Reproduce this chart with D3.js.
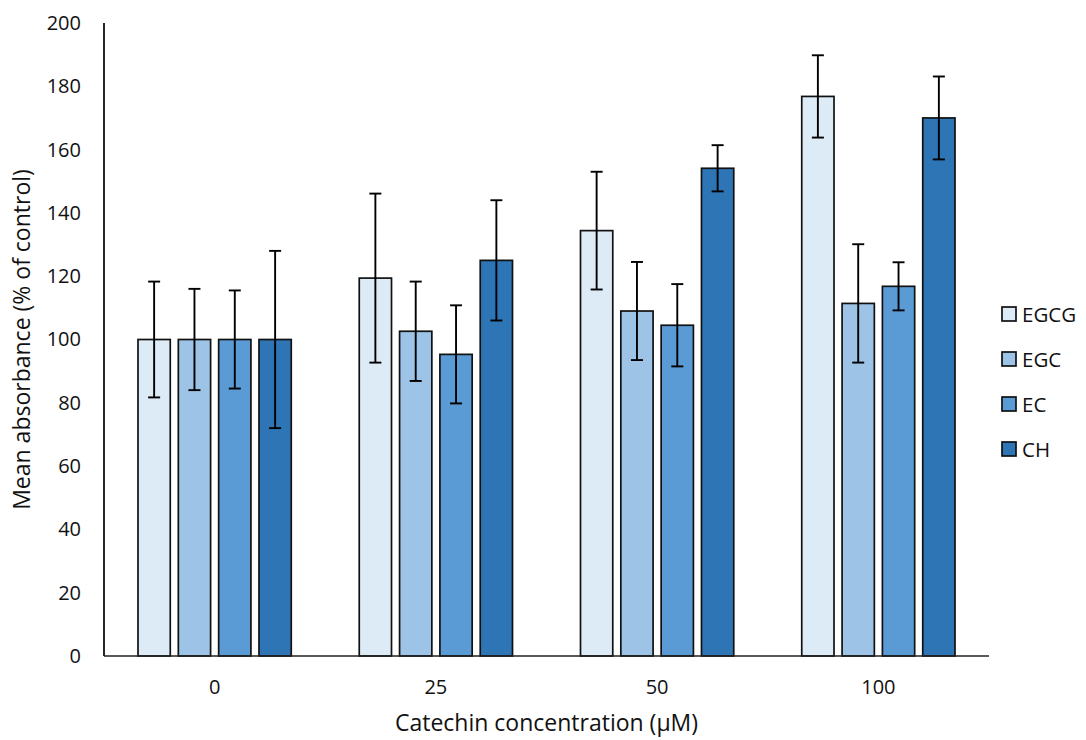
<!DOCTYPE html>
<html>
<head>
<meta charset="utf-8">
<script src="https://cdn.jsdelivr.net/npm/d3@7"></script>
<style>
  body { margin: 0; background: #fff; }
  text { font-family: "Open Sans", "Noto Sans", sans-serif; fill: #111; }
</style>
</head>
<body>
<div id="chart"></div>
<script>
// data
var categories = ["0", "25", "50", "100"];
var seriesNames = ["EGCG", "EGC", "EC", "CH"];
var seriesColors = ["#DDEBF7", "#9DC3E6", "#5B9BD5", "#2E75B6"];
var egcgValues = [100, 119.4, 134.4, 176.8];
var egcValues  = [100, 102.6, 109.0, 111.4];
var ecValues   = [100, 95.3, 104.5, 116.8];
var chValues   = [100, 125.0, 154.1, 170.0];
var egcgErrors = [18.3, 26.7, 18.6, 13.0];
var egcErrors  = [16.0, 15.7, 15.5, 18.7];
var ecErrors   = [15.5, 15.5, 13.0, 7.6];
var chErrors   = [28.0, 19.0, 7.3, 13.1];
var yTicks = [0, 20, 40, 60, 80, 100, 120, 140, 160, 180, 200];

var allValues = [egcgValues, egcValues, ecValues, chValues];
var allErrors = [egcgErrors, egcErrors, ecErrors, chErrors];

//svg size
var svgWidth = 1086;
var svgHeight = 740;

var margin = { top: 23, right: 97, bottom: 84, left: 104 };
var width = svgWidth - margin.left - margin.right;
var height = svgHeight - margin.top - margin.bottom;

var svg = d3.select("#chart")
    .append("svg")
    .attr("width", svgWidth)
    .attr("height", svgHeight);

var chartGroup = svg.append("g")
    .attr("transform", `translate(${margin.left}, ${margin.top})`);

//scales
var x0 = d3.scaleBand()
    .domain(categories)
    .range([0, width])
    .padding(0);

var x1 = d3.scaleBand()
    .domain(seriesNames)
    .range([34, x0.bandwidth() - 34])
    .paddingInner(0.2);

var yScale = d3.scaleLinear()
    .domain([0, 200])
    .range([height, 0]);

//y axis tick labels
var leftAxis = d3.axisLeft(yScale)
    .tickValues(yTicks)
    .tickSize(0)
    .tickPadding(23);

var yAxis = chartGroup.append("g").call(leftAxis);
yAxis.select(".domain").remove();
yAxis.selectAll("text")
    .style("font-size", "20px")
    .style("font-family", "'Open Sans', sans-serif")
    .attr("fill", "#111");

//x axis labels
var bottomAxis = d3.axisBottom(x0).tickSize(0).tickPadding(24);
var xAxis = chartGroup.append("g")
    .attr("transform", `translate(0, ${height})`)
    .call(bottomAxis);
xAxis.select(".domain").remove();
xAxis.selectAll("text")
    .style("font-size", "20px")
    .style("font-family", "'Open Sans', sans-serif")
    .attr("fill", "#111");

//flatten data into rows
var rows = [];
categories.forEach(function(c, i) {
    seriesNames.forEach(function(s, j) {
        rows.push({ cat: c, series: s, value: allValues[j][i], err: allErrors[j][i], color: seriesColors[j] });
    });
});

//bars
chartGroup.selectAll("rect.bar")
    .data(rows)
    .enter()
    .append("rect")
    .attr("class", "bar")
    .attr("x", d => x0(d.cat) + x1(d.series))
    .attr("y", d => yScale(d.value))
    .attr("width", x1.bandwidth())
    .attr("height", d => height - yScale(d.value))
    .attr("fill", d => d.color)
    .attr("stroke", "#111")
    .attr("stroke-width", 1.7);

//error bars
var errGroup = chartGroup.append("g")
    .attr("stroke", "#000")
    .attr("stroke-width", 1.9);

rows.forEach(function(d) {
    var cx = x0(d.cat) + x1(d.series) + x1.bandwidth() / 2;
    var yTop = yScale(d.value + d.err);
    var yBot = yScale(d.value - d.err);
    errGroup.append("line").attr("x1", cx).attr("x2", cx).attr("y1", yTop).attr("y2", yBot);
    errGroup.append("line").attr("x1", cx - 6).attr("x2", cx + 6).attr("y1", yTop).attr("y2", yTop);
    errGroup.append("line").attr("x1", cx - 6).attr("x2", cx + 6).attr("y1", yBot).attr("y2", yBot);
});

//axis lines
chartGroup.append("line")
    .attr("x1", 0).attr("x2", 0)
    .attr("y1", 0).attr("y2", height)
    .attr("stroke", "#000").attr("stroke-width", 1.7);

chartGroup.append("line")
    .attr("x1", 0).attr("x2", width)
    .attr("y1", height).attr("y2", height)
    .attr("stroke", "#222").attr("stroke-width", 1.7);

//axis titles
svg.append("text")
    .attr("transform", `translate(22, ${margin.top + height / 2}) rotate(-90)`)
    .attr("text-anchor", "middle")
    .attr("dy", "0.35em")
    .style("font-size", "23px")
    .text("Mean absorbance (% of control)");

svg.append("text")
    .attr("x", margin.left + width / 2)
    .attr("y", 731)
    .attr("text-anchor", "middle")
    .style("font-size", "23px")
    .text("Catechin concentration (\u03BCM)");

//legend
var legend = svg.append("g")
    .attr("transform", "translate(1002, 307)");

seriesNames.forEach(function(s, j) {
    var g = legend.append("g").attr("transform", `translate(0, ${j * 45})`);
    g.append("rect")
        .attr("width", 14).attr("height", 14)
        .attr("fill", seriesColors[j])
        .attr("stroke", "#111")
        .attr("stroke-width", 1.7);
    g.append("text")
        .attr("x", 20)
        .attr("y", 14.5)
        .style("font-size", "20.5px")
        .text(s);
});
</script>
</body>
</html>
